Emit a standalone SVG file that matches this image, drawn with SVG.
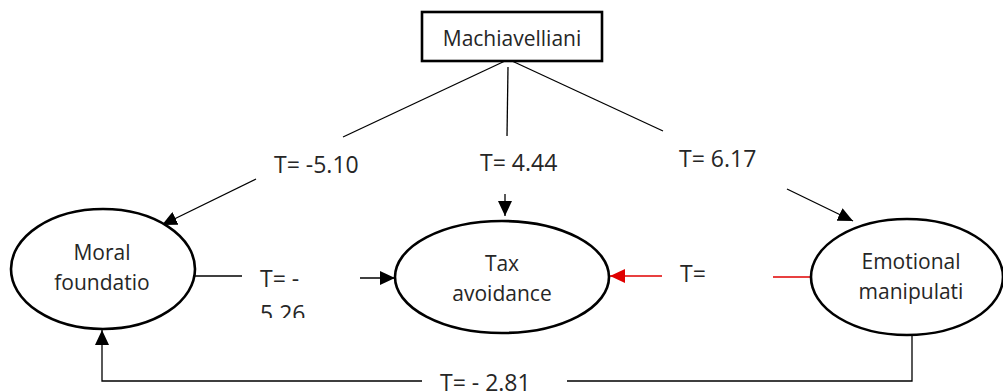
<svg xmlns="http://www.w3.org/2000/svg" width="1003" height="392" viewBox="0 0 1003 392">
<defs>
<style>
.node{fill:#fff;stroke:#000;stroke-width:2.6}
.ln{fill:none;stroke:#000;stroke-width:1.3}
.red{fill:none;stroke:#e00000;stroke-width:1.3}
.nt{font-family:"Open Sans","DejaVu Sans",sans-serif;font-size:21px;fill:#262626;text-anchor:middle}
.lb{font-family:"Open Sans","DejaVu Sans",sans-serif;font-size:23px;fill:#262626}
</style>
<marker id="ah" markerUnits="userSpaceOnUse" markerWidth="16" markerHeight="14" refX="15" refY="7" orient="auto">
<path d="M0,0 L15,7 L0,14 Z" fill="#000"/>
</marker>
<marker id="ahr" markerUnits="userSpaceOnUse" markerWidth="16" markerHeight="14" refX="15" refY="7" orient="auto">
<path d="M0,0 L15,7 L0,14 Z" fill="#e00000"/>
</marker>
<clipPath id="c1"><rect x="250" y="262" width="110" height="56"/></clipPath>
</defs>
<rect width="1003" height="392" fill="#fff"/>
<g id="connectors">
<line class="ln" x1="505" y1="61" x2="343" y2="137"/>
<line class="ln" x1="508" y1="67" x2="507" y2="136"/>
<line class="ln" x1="512" y1="61" x2="663" y2="131"/>
<line class="ln" x1="256" y1="179" x2="162" y2="225" marker-end="url(#ah)"/>
<line class="ln" x1="505" y1="194" x2="505" y2="216" marker-end="url(#ah)"/>
<line class="ln" x1="787" y1="189" x2="853" y2="221" marker-end="url(#ah)"/>
<line class="ln" x1="195" y1="276" x2="242" y2="276"/>
<line class="ln" x1="360" y1="278" x2="395" y2="278" marker-end="url(#ah)"/>
<line class="red" x1="662" y1="276" x2="610" y2="276" marker-end="url(#ahr)"/>
<line class="red" x1="773" y1="277" x2="811" y2="277"/>
<path class="ln" d="M912,335 V381 H567"/>
<path class="ln" d="M422,381 H102 V330" marker-end="url(#ah)"/>
<text class="lb" x="274" y="173">T= -5.10</text>
<text class="lb" x="480" y="171">T= 4.44</text>
<text class="lb" x="679" y="167">T= 6.17</text>
<g clip-path="url(#c1)">
<text class="lb" x="260" y="287">T= -</text>
<text class="lb" x="260" y="322">5.26</text>
</g>
<text class="lb" x="680" y="282">T=</text>
<text class="lb" x="440" y="391">T= - 2.81</text>
</g>
<g id="machiavelliani">
<rect class="node" x="422" y="12" width="180" height="49"/>
<text class="nt" x="512" y="46">Machiavelliani</text>
</g>
<g id="moral">
<ellipse class="node" cx="103" cy="269" rx="92" ry="60"/>
<text class="nt" x="102" y="260">Moral</text>
<text class="nt" x="102" y="290">foundatio</text>
</g>
<g id="tax">
<ellipse class="node" cx="502" cy="277" rx="107" ry="56"/>
<text class="nt" x="502" y="271">Tax</text>
<text class="nt" x="502" y="301">avoidance</text>
</g>
<g id="emotional">
<ellipse class="node" cx="907" cy="277" rx="96" ry="58"/>
<text class="nt" x="911" y="269">Emotional</text>
<text class="nt" x="911" y="299">manipulati</text>
</g>
</svg>
